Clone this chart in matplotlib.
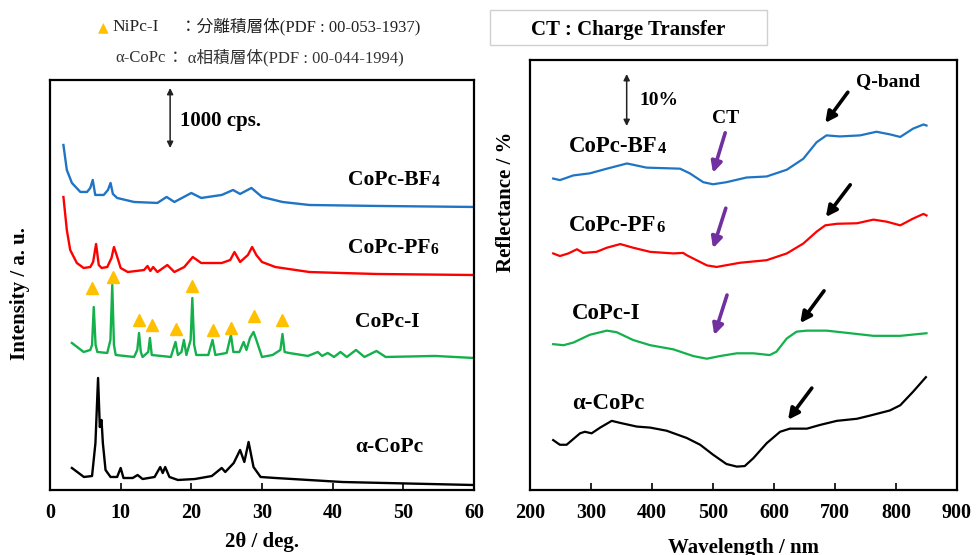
import matplotlib
matplotlib.use("Agg")
import matplotlib.pyplot as plt
from matplotlib.patches import Rectangle

plt.rcParams['font.family'] = ['Liberation Serif', 'Noto Sans CJK JP']
plt.rcParams['font.weight'] = 'bold'

# ---- XRD data (left): 2theta / deg, intensity / cps above each baseline ----
bf4_2t = [1.9, 2.38, 3.1, 4.3, 5.24, 5.7, 6.05, 6.4, 7.6, 8.2, 8.57, 8.9, 9.5, 11.9, 15.2, 16.5,
          17.6, 20.0, 21.4, 24.3, 25.9, 26.9, 28.5, 30.0, 32.9, 36.7, 46.2, 60]
bf4_int = [1033, 617, 400, 250, 250, 317, 450, 200, 200, 283, 400, 217, 150, 83, 67, 167,
           83, 233, 150, 200, 283, 217, 317, 167, 83, 33, 17, 0]

pf6_2t = [1.9, 2.38, 2.86, 3.8, 4.76, 5.7, 6.1, 6.52, 6.9, 7.3, 8.1, 8.7, 9.05, 9.43, 10.0, 11.0,
          13.3, 13.8, 14.2, 14.6, 15.2, 16.6, 17.6, 19.0, 20.2, 21.4, 24.3, 25.5, 26.1, 26.9,
          28.0, 28.6, 29.2, 30.0, 31.9, 36.7, 41.4, 46.2, 60]
pf6_int = [1300, 750, 417, 200, 117, 133, 217, 517, 167, 117, 133, 283, 467, 333, 117, 50,
           83, 150, 67, 133, 50, 167, 50, 133, 300, 200, 200, 250, 383, 217,
           333, 467, 333, 217, 133, 50, 33, 17, 0]

i_2t = [3.1, 4.76, 5.7, 5.95, 6.19, 6.45, 6.7, 8.1, 8.55, 8.81, 9.05, 9.3, 11.9, 12.35, 12.6,
        12.85, 13.1, 13.9, 14.14, 14.4, 17.1, 17.76, 18.1, 18.6, 18.95, 19.3, 19.9, 20.14, 20.4,
        20.7, 22.4, 23.0, 23.4, 25.0, 25.6, 25.95, 26.8, 27.4, 27.8, 28.3, 28.8, 29.2, 30.0,
        31.5, 32.6, 32.9, 33.2, 33.8, 36.5, 37.9, 38.5, 39.3, 40.2, 41.1, 42.0, 43.3, 44.5,
        46.2, 47.5, 54.5, 60]
i_int = [283, 133, 167, 250, 883, 250, 133, 117, 333, 1250, 250, 83, 50, 167, 450,
         133, 50, 133, 367, 83, 50, 300, 83, 133, 333, 83, 333, 1033, 250,
         83, 83, 333, 83, 117, 417, 133, 133, 300, 167, 367, 467, 333, 50,
         83, 167, 433, 133, 117, 67, 133, 67, 117, 50, 133, 50, 167, 50,
         150, 50, 67, 33]

a_2t = [3.1, 4.8, 5.95, 6.43, 6.8, 7.05, 7.29, 7.48, 7.86, 8.57, 9.5, 10.0, 10.4, 11.7, 12.4,
        13.1, 14.8, 15.6, 15.95, 16.3, 16.9, 18.1, 20.5, 22.9, 24.3, 24.8, 26.0, 26.9, 27.5,
        28.1, 28.8, 29.8, 31.9, 41.4, 60]
a_int = [367, 217, 233, 783, 1867, 1050, 1167, 783, 333, 217, 217, 367, 200, 200, 250,
         183, 217, 383, 283, 383, 217, 167, 183, 233, 367, 300, 450, 667, 467,
         800, 383, 217, 200, 133, 83]

xrd_offsets = [4717, 3583, 2167, 0]

# NiPc-I reference peak markers (2theta, height)
tri_2t = [5.95, 8.95, 12.6, 14.4, 17.8, 20.1, 23.0, 25.6, 28.9, 32.9]
tri_h = [3367, 3550, 2833, 2750, 2683, 3400, 2667, 2700, 2900, 2833]

# ---- Reflectance data (right): wavelength / nm, reflectance / % above each baseline ----
bf4_wl = [238, 249, 271, 298, 326, 359, 391, 446, 462, 484, 500, 522, 555, 588, 621, 648,
          670, 686, 708, 741, 768, 790, 807, 828, 845, 850]
bf4_r = [1.1, 0.8, 1.7, 2.1, 3.0, 4.0, 3.2, 3.0, 2.1, 0.4, 0.0, 0.4, 1.3, 1.5, 2.8, 4.9,
         8.1, 9.4, 9.2, 9.4, 10.1, 9.6, 9.1, 10.7, 11.5, 11.3]

pf6_wl = [238, 249, 263, 277, 287, 309, 326, 348, 369, 397, 435, 451, 457, 473, 490, 506,
          544, 588, 621, 648, 670, 684, 703, 736, 763, 785, 807, 828, 845, 850]
pf6_r = [2.6, 2.1, 2.6, 3.4, 2.7, 2.9, 3.7, 4.4, 3.7, 2.9, 2.6, 2.7, 2.25, 1.3, 0.3, 0.0,
         0.8, 1.3, 2.6, 4.5, 6.8, 8.0, 8.3, 8.4, 9.1, 8.7, 8.0, 9.3, 10.2, 9.9]

i_wl = [238, 255, 271, 298, 326, 342, 369, 397, 435, 468, 490, 511, 539, 566, 593, 604,
        621, 637, 654, 686, 725, 763, 807, 850]
i_r = [2.8, 2.6, 3.1, 4.6, 5.4, 5.1, 3.6, 2.6, 1.8, 0.5, 0.0, 0.5, 1.04, 1.04, 0.7, 1.35,
       3.9, 5.2, 5.4, 5.4, 4.9, 4.4, 4.4, 4.9]

a_wl = [238, 249, 260, 282, 290, 301, 315, 334, 348, 375, 397, 424, 457, 479, 500, 522,
        539, 552, 566, 588, 610, 626, 654, 675, 703, 736, 757, 790, 807, 828, 849]
a_r = [5.1, 4.2, 4.2, 6.4, 6.7, 6.4, 7.5, 8.8, 8.4, 7.7, 7.5, 6.9, 5.5, 4.2, 2.3, 0.5,
       0.0, 0.1, 1.6, 4.5, 6.7, 7.3, 7.3, 8.0, 8.8, 9.2, 9.8, 10.8, 11.8, 14.4, 17.2]

refl_offsets = [58.8, 42.9, 25.25, 4.5]

colors = ['#1f74c4', '#ff0000', '#14b04c', '#000000']
names = [('CoPc-BF', '4'), ('CoPc-PF', '6'), ('CoPc-I', ''), ('α-CoPc', '')]
purple = '#7030a0'


def label(ax, x, y, main, sub, size):
    t = ax.text(x, y, main, fontsize=size, fontweight='bold', va='center', ha='left')
    if sub:
        ax.annotate(sub, xy=(1, 0), xycoords=t, fontsize=size * 0.72,
                    fontweight='bold', va='bottom', ha='left')


def arrow(ax, tail, head, color, lw=2.6):
    ax.annotate('', xy=head, xytext=tail,
                arrowprops=dict(arrowstyle='-|>', color=color, lw=lw,
                                mutation_scale=16, shrinkA=0, shrinkB=0))


def style(ax):
    ax.tick_params(axis='x', direction='in', length=5, width=1.2, pad=9,
                   labelsize=14.5, top=False)
    ax.tick_params(axis='y', left=False, labelleft=False)
    for s in ax.spines.values():
        s.set_linewidth(1.6)
    for t in ax.get_xticklabels():
        t.set_fontweight('bold')


fig = plt.figure(figsize=(9.76, 5.55), dpi=100)

# ---------------- left: XRD ----------------
ax1 = fig.add_axes([50 / 976, 65 / 555, 424 / 976, 410 / 555])
xrd = [(bf4_2t, bf4_int), (pf6_2t, pf6_int), (i_2t, i_int), (a_2t, a_int)]
for (x, y), off, c in zip(xrd, xrd_offsets, colors):
    ax1.plot(x, [v + off for v in y], color=c, lw=1.7)
ax1.plot(tri_2t, tri_h, ls='none', marker='^', ms=9, color='#ffc000')

ax1.set_xlim(0, 60)
ax1.set_ylim(0, 6833)
ax1.set_xticks([0, 10, 20, 30, 40, 50, 60])
style(ax1)

lab_y1 = [5167, 4033, 2800, 717]
lab_x1 = [42.2, 42.2, 43.2, 43.2]
for (m, s), x, y in zip(names, lab_x1, lab_y1):
    label(ax1, x, y, m, s, 15.5)

ax1.annotate('', xy=(17.0, 5700), xytext=(17.0, 6700),
             arrowprops=dict(arrowstyle='<|-|>', color='#222222', lw=1.1,
                             mutation_scale=9, shrinkA=0, shrinkB=0))
ax1.text(18.4, 6150, '1000 cps.', fontsize=15, fontweight='bold', va='center')

ax1.set_xlabel('2θ / deg.', fontsize=15, fontweight='bold')
ax1.xaxis.label.set_verticalalignment('center')
ax1.xaxis.set_label_coords(0.5, -0.127)
ax1.set_ylabel('Intensity / a. u.', fontsize=15, fontweight='bold')
ax1.yaxis.label.set_verticalalignment('center')
ax1.yaxis.set_label_coords(-0.071, 0.48)

# ---------------- right: reflectance ----------------
ax2 = fig.add_axes([530 / 976, 65 / 555, 427 / 976, 430 / 555])
refl = [(bf4_wl, bf4_r), (pf6_wl, pf6_r), (i_wl, i_r), (a_wl, a_r)]
for (x, y), off, c in zip(refl, refl_offsets, colors):
    ax2.plot(x, [v + off for v in y], color=c, lw=1.6)

ax2.set_xlim(200, 900)
ax2.set_ylim(0, 82.7)
ax2.set_xticks(range(200, 901, 100))
style(ax2)

lab_y2 = [66.0, 50.8, 34.0, 16.7]
lab_x2 = [264, 264, 269, 269]
for (m, s), x, y in zip(names, lab_x2, lab_y2):
    label(ax2, x, y, m, s, 16.5)

ax2.annotate('', xy=(358.5, 70.0), xytext=(358.5, 80.0),
             arrowprops=dict(arrowstyle='<|-|>', color='#222222', lw=1.1,
                             mutation_scale=9, shrinkA=0, shrinkB=0))
ax2.text(380, 75, '10%', fontsize=14, fontweight='bold', va='center')
ax2.text(787, 78.5, 'Q-band', fontsize=14, fontweight='bold', va='center', ha='center')
ax2.text(521, 71.5, 'CT', fontsize=14, fontweight='bold', va='center', ha='center')

# Q-band arrows (black) and CT arrows (purple)
q_tails = [(721, 76.5), (725, 58.7), (682, 38.3), (662, 19.6)]
q_heads = [(684, 70.6), (685, 52.5), (643, 32.1), (623, 13.5)]
for t, h in zip(q_tails, q_heads):
    arrow(ax2, t, h, 'black')
ct_tails = [(520, 68.7), (521, 54.2), (523, 37.5)]
ct_heads = [(500, 61.0), (500, 46.5), (502, 29.8)]
for t, h in zip(ct_tails, ct_heads):
    arrow(ax2, t, h, purple)

ax2.set_xlabel('Wavelength / nm', fontsize=15, fontweight='bold')
ax2.xaxis.label.set_verticalalignment('center')
ax2.xaxis.set_label_coords(0.5, -0.135)
ax2.set_ylabel('Reflectance / %', fontsize=15, fontweight='bold')
ax2.yaxis.label.set_verticalalignment('center')
ax2.yaxis.set_label_coords(-0.056, 0.67)

# ---------------- header texts ----------------
fig.add_artist(Rectangle((490 / 976, 1 - 45 / 555), 277 / 976, 35 / 555,
                         transform=fig.transFigure, fill=False, ec='#d0d0d0', lw=1))
fig.text(628 / 976, 1 - 30 / 555, 'CT : Charge Transfer', fontsize=15,
         fontweight='bold', ha='center', va='center')

fig.text(103 / 976, 1 - 27 / 555, '▲', color='#ffc000', fontsize=10,
         fontweight='normal', ha='center', va='center', family=['DejaVu Sans'])
fig.text(112 / 976, 1 - 27 / 555, 'NiPc-I', fontsize=12.5, fontweight='normal',
         va='center', color='#222222')
fig.text(180 / 976, 1 - 27 / 555, '：分離積層体(PDF : 00-053-1937)', fontsize=12,
         fontweight='normal', va='center', color='#222222')
fig.text(115 / 976, 1 - 58 / 555, 'α-CoPc', fontsize=12, fontweight='normal',
         va='center', color='#333333')
fig.text(167 / 976, 1 - 58 / 555, '： α相積層体(PDF : 00-044-1994)', fontsize=12,
         fontweight='normal', va='center', color='#333333')

fig.savefig('out.png', dpi=100)
